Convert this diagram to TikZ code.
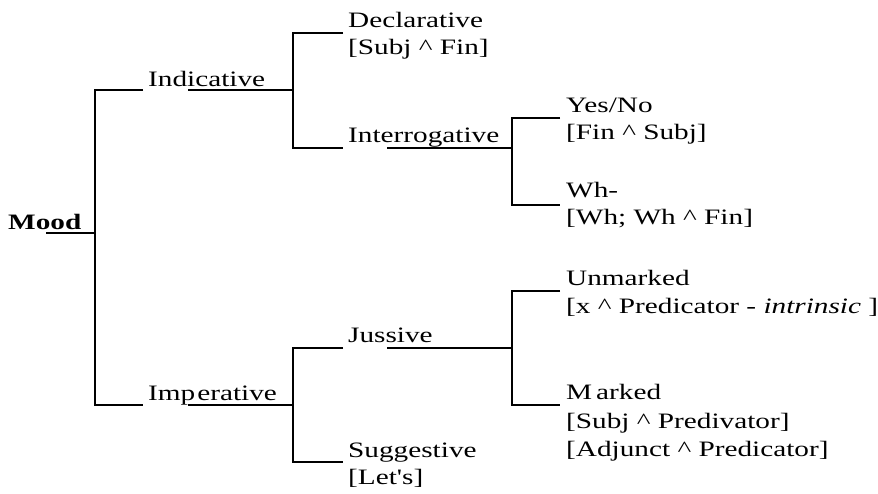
\documentclass[tikz,border=0pt]{standalone}
\usepackage{fontspec}
\setmainfont[FakeStretch=1.33, Ligatures=TeXOff]{Liberation Serif}
\begin{document}
\begin{tikzpicture}[x=1pt,y=-1pt,
  lab/.style={anchor=base west, inner sep=0pt, font=\fontsize{22}{27}\selectfont},
  br/.style={line width=2.2pt, line join=miter}]
\useasboundingbox[fill=white] (0,0) rectangle (878,493);
% labels
\node[lab] (mood) at (8,229) {\textbf{Mood}};
\node[lab] (ind) at (148,86) {Indicative};
\node[lab] (imp) at (148,400) {Imp\kern2pt erative};
\node[lab] (decl) at (348,27) {Declarative};
\node[lab] (declf) at (348,54) {[Subj \^{} Fin]};
\node[lab] (inter) at (348,142) {Interrogative};
\node[lab] (yes) at (566,112) {Yes/No};
\node[lab] (yesf) at (566,139) {[Fin \^{} Subj]};
\node[lab] (wh) at (566,197) {Wh-};
\node[lab] (whf) at (566,224) {[Wh; Wh \^{} Fin]};
\node[lab] (juss) at (348,342) {Jussive};
\node[lab] (sugg) at (348,457) {Suggestive};
\node[lab] (suggf) at (348,484) {[Let's]};
\node[lab] (unm) at (566,285) {Unmarked};
\node[lab] (unmf) at (566,313) {[x \^{} Predicator - \textit{intrinsic} ]};
\node[lab] (mark) at (566,399) {M\kern4pt arked};
\node[lab] (markf) at (566,428) {[Subj \^{} Predivator]};
\node[lab] (markg) at (566,456) {[Adjunct \^{} Predicator]};
% junction coordinates
\coordinate (moodu) at (46,233);
\coordinate (j1) at (95,233);
\coordinate (j1t) at (95,90);
\coordinate (j1b) at (95,405);
\coordinate (indu) at (188,90);
\coordinate (j2) at (293,90);
\coordinate (j2t) at (293,33);
\coordinate (j2b) at (293,148);
\coordinate (interu) at (387,148);
\coordinate (j3) at (512,148);
\coordinate (j3t) at (512,118);
\coordinate (j3b) at (512,205);
\coordinate (impu) at (188,405);
\coordinate (j4) at (293,405);
\coordinate (j4t) at (293,348);
\coordinate (j4b) at (293,462);
\coordinate (jussu) at (387,348);
\coordinate (j5) at (512,348);
\coordinate (j5t) at (512,291);
\coordinate (j5b) at (512,405);
% connectors
\draw[br] (moodu) -- (j1);
\draw[br] ([xshift=-5pt]ind.west |- j1t) -- (j1t) -- (j1b) -- ([xshift=-5pt]imp.west |- j1b);
\draw[br] (indu) -- (j2);
\draw[br] ([xshift=-5pt]decl.west |- j2t) -- (j2t) -- (j2b) -- ([xshift=-5pt]inter.west |- j2b);
\draw[br] (interu) -- (j3);
\draw[br] ([xshift=-6pt]yes.west |- j3t) -- (j3t) -- (j3b) -- ([xshift=-6pt]wh.west |- j3b);
\draw[br] (impu) -- (j4);
\draw[br] ([xshift=-5pt]juss.west |- j4t) -- (j4t) -- (j4b) -- ([xshift=-5pt]sugg.west |- j4b);
\draw[br] (jussu) -- (j5);
\draw[br] ([xshift=-6pt]unm.west |- j5t) -- (j5t) -- (j5b) -- ([xshift=-6pt]mark.west |- j5b);
\end{tikzpicture}
\end{document}
